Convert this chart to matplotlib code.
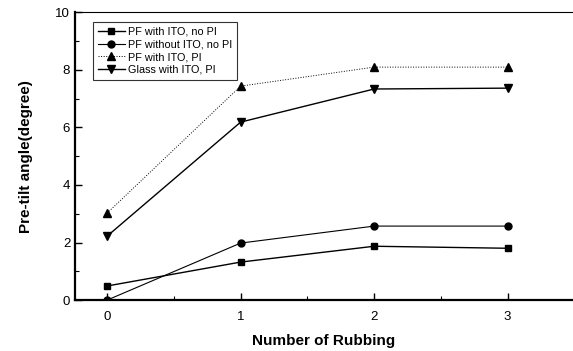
import matplotlib.pyplot as plt
from matplotlib.ticker import MultipleLocator

plt.rcParams['font.family'] = ['Liberation Sans', 'DejaVu Sans']

rubbing = [0, 1, 2, 3]
pf_ito_no_pi = [0.49, 1.32, 1.87, 1.80]
pf_no_ito_no_pi = [0.0, 1.98, 2.57, 2.57]
pf_ito_pi = [3.02, 7.43, 8.09, 8.09]
glass_ito_pi = [2.22, 6.18, 7.33, 7.36]

fig = plt.figure(figsize=(5.73, 3.51), dpi=100)
ax = fig.add_axes([0.131, 0.145, 0.869, 0.8205])

ax.plot(rubbing, pf_ito_no_pi, color='black', lw=1.0, marker='s', ms=5,
        label='PF with ITO, no PI')
ax.plot(rubbing, pf_no_ito_no_pi, color='black', lw=0.8, marker='o', ms=5,
        label='PF without ITO, no PI')
ax.plot(rubbing, pf_ito_pi, color='black', lw=0.7, ls=':', marker='^', ms=6,
        label='PF with ITO, PI')
ax.plot(rubbing, glass_ito_pi, color='black', lw=1.0, marker='v', ms=6,
        label='Glass with ITO, PI')

ax.set_xlim(-0.24, 3.49)
ax.set_ylim(0, 10)
ax.xaxis.set_major_locator(MultipleLocator(1))
ax.xaxis.set_minor_locator(MultipleLocator(0.5))
ax.yaxis.set_major_locator(MultipleLocator(2))
ax.yaxis.set_minor_locator(MultipleLocator(1))
ax.tick_params(which='both', direction='in', labelsize=9.5)
ax.tick_params(which='major', length=5, width=1)
ax.tick_params(which='minor', length=3, width=0.8)
ax.tick_params(axis='x', pad=8)

ax.spines['right'].set_visible(False)
ax.spines['left'].set_linewidth(1.6)
ax.spines['bottom'].set_linewidth(1.6)
ax.spines['top'].set_linewidth(0.8)

ax.set_xlabel('Number of Rubbing', fontsize=11, fontweight='bold', labelpad=8)
ax.set_ylabel('Pre-tilt angle(degree)', fontsize=11, fontweight='bold', labelpad=16)

leg = ax.legend(loc='upper left', bbox_to_anchor=(0.025, 0.985), fontsize=7.8,
                frameon=True, fancybox=False, edgecolor='black',
                handlelength=2.5, labelspacing=0.25, borderpad=0.45,
                handletextpad=0.3)
leg.get_frame().set_linewidth(0.8)

fig.savefig('out.png', dpi=100)
